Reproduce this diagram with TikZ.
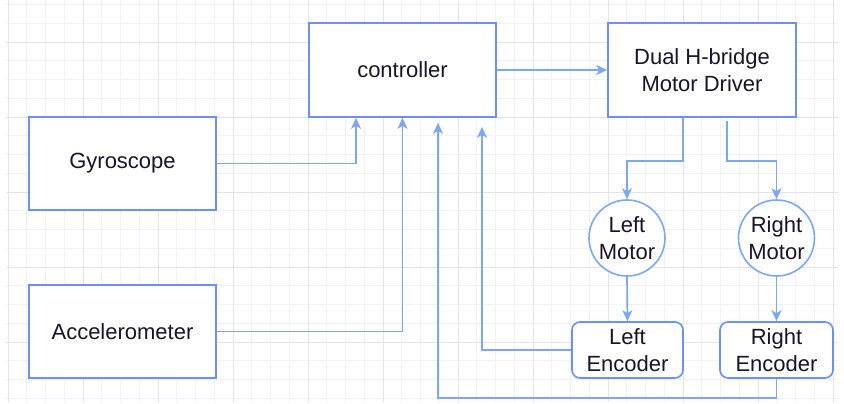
\documentclass[tikz,border=0pt]{standalone}
\usepackage{fontspec}
\setmainfont{Liberation Sans}
\usetikzlibrary{arrows.meta}
\definecolor{boxc}{RGB}{108,142,255}
\definecolor{linec}{RGB}{126,166,248}
\definecolor{gmaj}{RGB}{228,228,228}
\definecolor{gmin}{RGB}{242,242,242}
\definecolor{txt}{RGB}{25,20,40}
\begin{document}
\begin{tikzpicture}[x=1pt,y=-1pt,
  block/.style={draw=boxc, line width=1.6pt, fill=white, inner sep=0pt, align=center,
    font=\fontsize{22}{26.5}\selectfont, text=txt},
  rblock/.style={block, rounded corners=8pt},
  motor/.style={block, draw=linec, circle, minimum size=76pt},
  conn/.style={draw=linec, line width=1.7pt, -{Stealth[length=11pt,width=10pt,inset=3pt]}},
  gridmin/.style={draw=gmin, line width=0.7pt},
  gridmaj/.style={draw=gmaj, line width=0.9pt}]
\useasboundingbox (0,0) rectangle (844,404);
\fill[white] (0,0) rectangle (844,404);
% grid
\foreach \i in {0,...,44} \draw[gridmin] ({8+18.75*\i},0) -- ({8+18.75*\i},402);
\foreach \j in {0,...,21} \draw[gridmin] (6,{4.5+18.75*\j}) -- (838,{4.5+18.75*\j});
\foreach \i in {0,...,11} \draw[gridmaj] ({8+75*\i},0) -- ({8+75*\i},402);
\foreach \j in {0,...,4} \draw[gridmaj] (6,{42+75*\j}) -- (838,{42+75*\j});
% nodes
\node[block, minimum width=187pt, minimum height=93pt] (gyro) at (122.5,163.5) {Gyroscope};
\node[block, minimum width=187pt, minimum height=93pt] (accel) at (122.5,331.5) {Accelerometer};
\node[block, minimum width=187pt, minimum height=94pt] (ctrl) at (402.5,70) {controller};
\node[block, minimum width=188pt, minimum height=94pt] (drv) at (702,70) {Dual H-bridge\\Motor Driver};
\node[motor] (lmot) at (627,238) {Left\\Motor};
\node[motor] (rmot) at (776.5,238) {Right\\Motor};
\node[rblock, minimum width=111pt, minimum height=56pt] (lenc) at (627.5,350) {Left\\Encoder};
\node[rblock, minimum width=113pt, minimum height=56pt] (renc) at (776.5,350) {Right\\Encoder};
% connectors
\draw[conn] (gyro.east) -| ([xshift=-46.5pt]ctrl.south);
\draw[conn] (accel.east) -| (ctrl.south);
\draw[conn, shorten >=9pt] (lenc.west) -| ([xshift=79.5pt]ctrl.south);
\draw[conn, shorten >=5pt] (renc.south) -- ++(0,19) -| ([xshift=35.5pt]ctrl.south);
\draw[conn] (ctrl.east) -- (drv.west);
\draw[conn] ([xshift=-19pt]drv.south) -- ++(0,43) -| (lmot.north);
\draw[conn, shorten <=3pt] ([xshift=25pt]drv.south) -- ++(0,43) -| (rmot.north);
\draw[conn] (lmot.south) -- (lenc.north);
\draw[conn] (rmot.south) -- (renc.north);
\end{tikzpicture}
\end{document}
